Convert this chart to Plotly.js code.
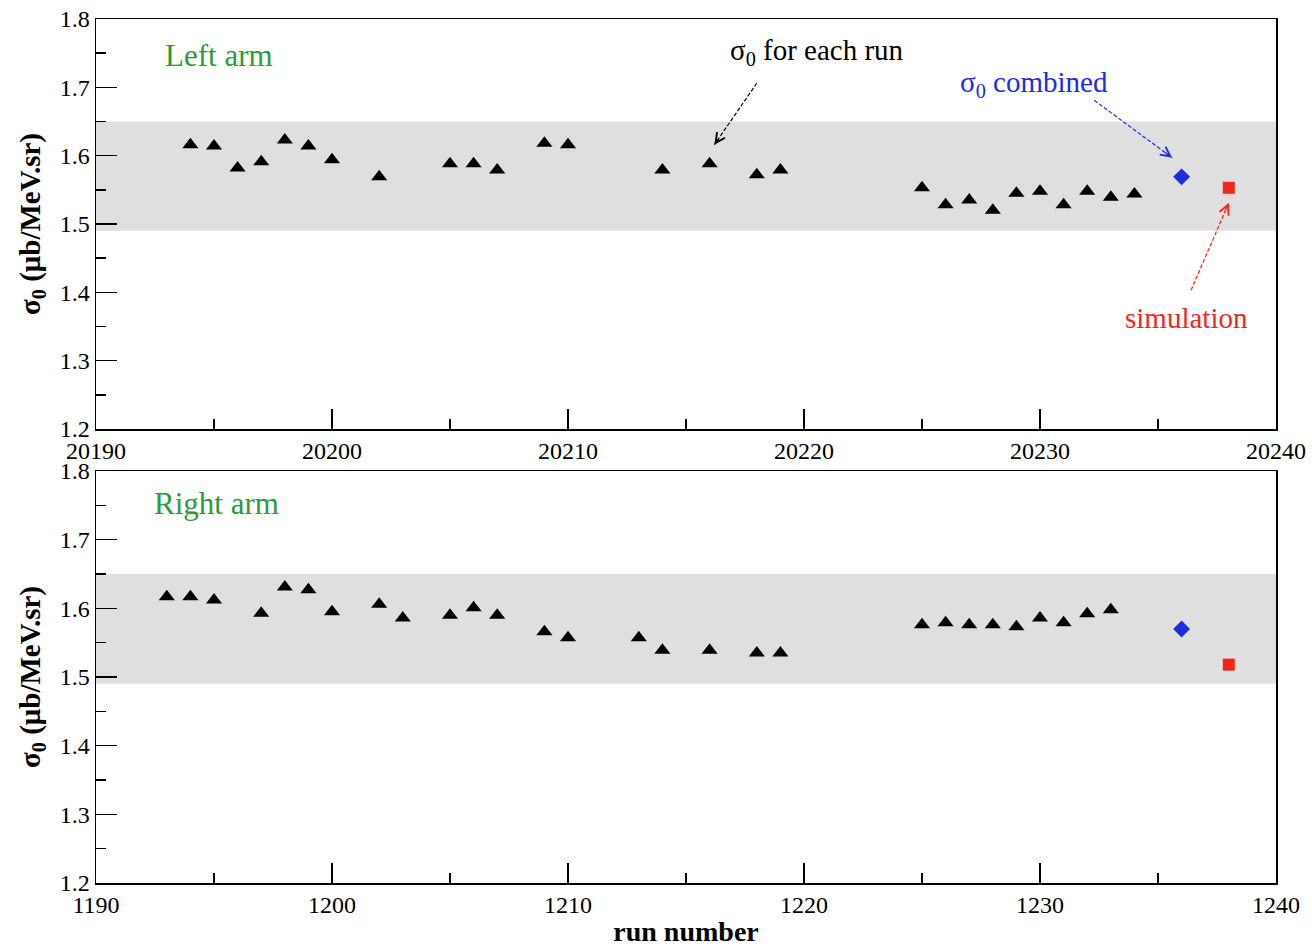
<!DOCTYPE html>
<html>
<head>
<meta charset="utf-8">
<script src="https://cdn.plot.ly/plotly-3.0.1.min.js"></script>
<style>html,body{margin:0;padding:0;background:#fff;}#chart{width:1312px;height:948px;}</style>
</head>
<body>
<div id="chart"></div>
<script>
// ---- Left arm (top panel) ----
const leftRuns = [20194,20195,20196,20197,20198,20199,20200,20202,20205,20206,20207,20209,20210,20214,20216,20218,20219,20225,20226,20227,20228,20229,20230,20231,20232,20233,20234];
const leftSigma = [1.616,1.614,1.582,1.591,1.623,1.614,1.594,1.569,1.588,1.588,1.579,1.618,1.616,1.579,1.588,1.572,1.579,1.553,1.528,1.535,1.520,1.545,1.548,1.528,1.548,1.539,1.544];
const leftCombinedRun = [20236];
const leftCombined = [1.569];
const leftSimRun = [20238];
const leftSim = [1.553];

// ---- Right arm (bottom panel) ----
const rightRuns = [1193,1194,1195,1197,1198,1199,1200,1202,1203,1205,1206,1207,1209,1210,1213,1214,1216,1218,1219,1225,1226,1227,1228,1229,1230,1231,1232,1233];
const rightSigma = [1.617,1.617,1.612,1.593,1.631,1.627,1.595,1.606,1.586,1.590,1.601,1.590,1.566,1.557,1.557,1.539,1.539,1.535,1.535,1.576,1.579,1.576,1.576,1.573,1.586,1.579,1.592,1.598];
const rightCombinedRun = [1236];
const rightCombined = [1.570];
const rightSimRun = [1238];
const rightSim = [1.518];

// band
const bandLow = 1.49;
const bandHigh = 1.65;

const serif = "'Liberation Serif', 'Times New Roman', serif";
const blue = "#1a2ee0";
const red = "#f0281c";
const green = "#2f9a3a";

const traces = [
  {x:leftRuns, y:leftSigma, xaxis:'x', yaxis:'y', mode:'markers', type:'scatter',
   marker:{symbol:'triangle-up', size:14, color:'#000'}},
  {x:leftCombinedRun, y:leftCombined, xaxis:'x', yaxis:'y', mode:'markers', type:'scatter',
   marker:{symbol:'diamond', size:13, color:blue}},
  {x:leftSimRun, y:leftSim, xaxis:'x', yaxis:'y', mode:'markers', type:'scatter',
   marker:{symbol:'square', size:12, color:red}},
  {x:rightRuns, y:rightSigma, xaxis:'x2', yaxis:'y2', mode:'markers', type:'scatter',
   marker:{symbol:'triangle-up', size:14, color:'#000'}},
  {x:rightCombinedRun, y:rightCombined, xaxis:'x2', yaxis:'y2', mode:'markers', type:'scatter',
   marker:{symbol:'diamond', size:13, color:blue}},
  {x:rightSimRun, y:rightSim, xaxis:'x2', yaxis:'y2', mode:'markers', type:'scatter',
   marker:{symbol:'square', size:12, color:red}}
];

function xax(range, anchor) {
  return {
    range: range, domain:[96/1312, 1276/1312], anchor: anchor,
    showgrid:false, zeroline:false, showline:true, linecolor:'#000', linewidth:1.5, mirror:true,
    ticks:'inside', ticklen:20, tickwidth:1.5, tickcolor:'#000', dtick:10, tick0:range[0],
    tickformat:'d',
    minor:{dtick:5, ticks:'inside', ticklen:10, tickwidth:1.5, tickcolor:'#000'},
    tickfont:{family:serif, size:24, color:'#000'}
  };
}
function yax(domain, anchor) {
  return {
    range:[1.2, 1.8], domain:domain, anchor:anchor,
    showgrid:false, zeroline:false, showline:true, linecolor:'#000', linewidth:1.5, mirror:true,
    ticks:'inside', ticklen:21, tickwidth:1.5, tickcolor:'#000', dtick:0.1, tick0:1.2,
    tickformat:'.1f',
    minor:{dtick:0.05, ticks:'inside', ticklen:10, tickwidth:1.5, tickcolor:'#000'},
    tickfont:{family:serif, size:24, color:'#000'},
    title:{text:'<b>σ<sub>0</sub> (μb/MeV.sr)</b>', font:{family:serif, size:29, color:'#000'}, standoff:10}
  };
}

const topDom = [1-429/948, 1-19/948];
const botDom = [1-883/948, 1-471/948];

const xa1 = xax([20190,20240],'y');
const xa2 = xax([1190,1240],'y2');
xa2.title = {text:'<b>run number</b>', font:{family:serif, size:28, color:'#000'}, standoff:4};

// arrows: [tailX, tailY, headX, headY, color]
const arrows = [
  [20218.0, 1.706, 20216.2, 1.616, '#000'],
  [20232.3, 1.681, 20235.6, 1.597, blue],
  [20236.4, 1.403, 20238.0, 1.531, red]
];
const arrowShapes = arrows.map(a => ({type:'line', xref:'x', yref:'y', x0:a[0], y0:a[1], x1:a[2], y1:a[3],
  line:{color:a[4], width:1.2, dash:'4px,2px'}}));
const arrowHeads = arrows.map(a => ({xref:'x', yref:'y', axref:'x', ayref:'y',
  x:a[2], y:a[3], ax:a[2] + (a[0]-a[2])*0.12, ay:a[3] + (a[1]-a[3])*0.12,
  text:'', showarrow:true, arrowhead:5, arrowsize:1.6, arrowwidth:1.2, arrowcolor:a[4], standoff:0, startstandoff:0}));

const layout = {
  width:1312, height:948,
  margin:{l:0, r:0, t:0, b:0},
  font:{family:serif, color:'#000'},
  paper_bgcolor:'#fff', plot_bgcolor:'#fff',
  showlegend:false,
  xaxis: xa1,
  yaxis: yax(topDom,'x'),
  xaxis2: xa2,
  yaxis2: yax(botDom,'x2'),
  shapes:[
    {type:'rect', xref:'x domain', yref:'y', x0:0, x1:1, y0:bandLow, y1:bandHigh,
     fillcolor:'#dfdfdf', line:{width:0}, layer:'below'},
    {type:'rect', xref:'x2 domain', yref:'y2', x0:0, x1:1, y0:bandLow, y1:bandHigh,
     fillcolor:'#dfdfdf', line:{width:0}, layer:'below'}
  ].concat(arrowShapes),
  annotations:[
    {xref:'x', yref:'y', x:20195.2, y:1.747, text:'Left arm', showarrow:false,
     font:{family:serif, size:31, color:green}},
    {xref:'x2', yref:'y2', x:1195.1, y:1.753, text:'Right arm', showarrow:false,
     font:{family:serif, size:31, color:green}},
    {xref:'x', yref:'y', x:20220.55, y:1.752, text:'σ<sub>0</sub> for each run', showarrow:false,
     font:{family:serif, size:29, color:'#000'}},
    {xref:'x', yref:'y', x:20229.75, y:1.705, text:'σ<sub>0</sub> combined', showarrow:false,
     font:{family:serif, size:29, color:blue}},
    {xref:'x', yref:'y', x:20236.2, y:1.362, text:'simulation', showarrow:false,
     font:{family:serif, size:29, color:red}}
  ].concat(arrowHeads)
};

Plotly.newPlot('chart', traces, layout, {displayModeBar:false, staticPlot:true});
</script>
</body>
</html>
